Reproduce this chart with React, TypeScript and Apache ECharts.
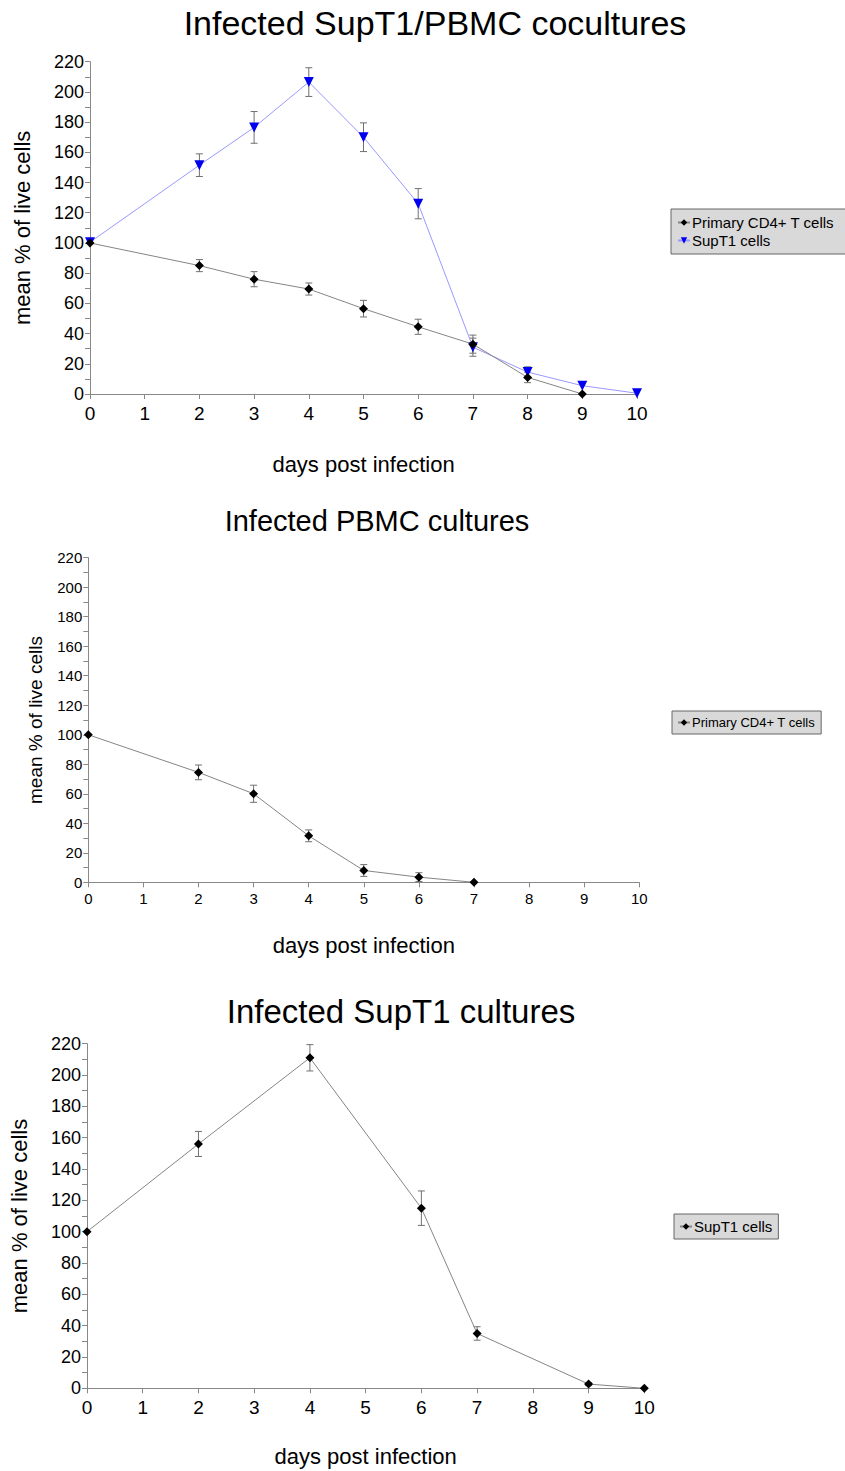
import React, { useEffect, useRef } from "react";
import * as echarts from "echarts";

// ---------- data ----------
const chartTitles = ["Infected SupT1/PBMC cocultures", "Infected PBMC cultures", "Infected SupT1 cultures"];
const xAxisName = "days post infection";
const yAxisName = "mean % of live cells";

// Chart 1: cocultures
const co_primaryDays = [0, 2, 3, 4, 5, 6, 7, 8, 9];
const co_primaryVals = [100, 85, 76, 69.5, 56.5, 44.5, 33, 11, 0];
const co_primaryErr = [0, 4, 5, 4, 5.5, 5, 6, 3.5, 0];
const co_supDays = [0, 2, 3, 4, 5, 6, 7, 8, 9, 10];
const co_supVals = [100.5, 151.5, 176.5, 206.5, 170, 126, 31, 14.5, 5.5, 0.5];
const co_supErr = [0, 7.5, 10.5, 9.5, 9.5, 10, 6, 3.5, 0, 0];

// Chart 2: PBMC cultures
const pbmcDays = [0, 2, 3, 4, 5, 6, 7];
const pbmcVals = [100, 74.5, 60, 31.5, 8, 3.5, 0];
const pbmcErr = [0, 5, 5.8, 4, 4, 3, 0];

// Chart 3: SupT1 cultures
const supDays = [0, 2, 4, 6, 7, 9, 10];
const supVals = [100, 156, 211, 115, 35, 2.7, 0];
const supErr = [0, 8, 8.4, 11, 4.3, 1, 0];

const legendLabels: Record<string, string> = {
  "Primary CD4+ T cells": "Primary CD4+ T cells",
  "SupT1 cells": "SupT1 cells",
  "Primary CD4+ T cells (PBMC)": "Primary CD4+ T cells",
  "SupT1 cells (SupT1)": "SupT1 cells",
};

const FONT = "'Liberation Sans', Arial, sans-serif";

function pairs(xs: number[], ys: number[]) {
  return xs.map((x, i) => [x, ys[i]]);
}
function errs(xs: number[], ys: number[], es: number[]) {
  return xs
    .map((x, i) => [x, ys[i] - es[i], ys[i] + es[i], es[i]])
    .filter((d) => d[3] > 0);
}

function errorSeries(idx: number, data: number[][]) {
  return {
    type: "custom",
    xAxisIndex: idx,
    yAxisIndex: idx,
    silent: true,
    z: 1,
    data,
    renderItem: (_params: any, api: any) => {
      const x = api.value(0);
      const lo = api.coord([x, api.value(1)]);
      const hi = api.coord([x, api.value(2)]);
      const w = 3.5;
      const st = { stroke: "#707070", lineWidth: 1 };
      return {
        type: "group",
        children: [
          { type: "line", shape: { x1: lo[0], y1: lo[1], x2: hi[0], y2: hi[1] }, style: st },
          { type: "line", shape: { x1: lo[0] - w, y1: lo[1], x2: lo[0] + w, y2: lo[1] }, style: st },
          { type: "line", shape: { x1: hi[0] - w, y1: hi[1], x2: hi[0] + w, y2: hi[1] }, style: st },
        ],
      };
    },
  };
}

const layouts = [
  { left: 90, top: 61.7, width: 547, height: 332.3, tick: 18, xTick: 19, xMargin: 10, yName: 22, yGap: 57, xName: 22, xGap: 59, titleX: 435, titleY: 23, titleSize: 34 },
  { left: 88.3, top: 557.7, width: 551, height: 324.6, tick: 15, xTick: 15, xMargin: 9, yName: 19, yGap: 43, xName: 22, xGap: 52, titleX: 377, titleY: 521, titleSize: 29 },
  { left: 86, top: 1043.7, width: 558.3, height: 344.6, tick: 18, xTick: 19, xMargin: 10, yName: 22, yGap: 57, xName: 22, xGap: 57, titleX: 401, titleY: 1011, titleSize: 33 },
];

export default function App() {
  const ref = useRef<HTMLDivElement>(null);
  useEffect(() => {
    document.body.style.margin = "0";
    if (!ref.current) return;
    const chart = echarts.init(ref.current, null, { renderer: "svg" });

    const grid = layouts.map((l) => ({ left: l.left, top: l.top, width: l.width, height: l.height }));
    const xAxis = layouts.map((l, i) => ({
      type: "value",
      gridIndex: i,
      min: 0,
      max: 10,
      interval: 1,
      name: xAxisName,
      nameLocation: "middle",
      nameGap: l.xGap,
      nameTextStyle: { fontSize: l.xName, color: "#000", fontFamily: FONT },
      axisLine: { show: true, lineStyle: { color: "#888", width: 1 } },
      axisTick: { show: true, length: 5, lineStyle: { color: "#888" } },
      axisLabel: { fontSize: l.xTick, color: "#000", fontFamily: FONT, margin: l.xMargin },
      splitLine: { show: false },
    }));
    const yAxis = layouts.map((l, i) => ({
      type: "value",
      gridIndex: i,
      min: 0,
      max: 220,
      interval: 20,
      name: yAxisName,
      nameLocation: "middle",
      nameGap: l.yGap,
      nameTextStyle: { fontSize: l.yName, color: "#000", fontFamily: FONT },
      axisLine: { show: true, lineStyle: { color: "#888", width: 1 } },
      axisTick: { show: true, length: 5, lineStyle: { color: "#888" } },
      minorTick: { show: true, splitNumber: 2, length: 5, lineStyle: { color: "#888" } },
      axisLabel: { fontSize: l.tick, color: "#000", fontFamily: FONT, margin: 6 },
      splitLine: { show: false },
    }));

    const diamond = {
      symbol: "diamond",
      symbolSize: 9,
      itemStyle: { color: "#000" },
      lineStyle: { color: "#858585", width: 1 },
    };

    const series: any[] = [
      errorSeries(0, errs(co_supDays, co_supVals, co_supErr)),
      errorSeries(0, errs(co_primaryDays, co_primaryVals, co_primaryErr)),
      {
        type: "line",
        name: "SupT1 cells",
        xAxisIndex: 0,
        yAxisIndex: 0,
        data: pairs(co_supDays, co_supVals),
        symbol: "triangle",
        symbolRotate: 180,
        symbolSize: 10,
        itemStyle: { color: "#0000ee" },
        lineStyle: { color: "#9999ff", width: 1 },
        z: 2,
      },
      {
        type: "line",
        name: "Primary CD4+ T cells",
        xAxisIndex: 0,
        yAxisIndex: 0,
        data: pairs(co_primaryDays, co_primaryVals),
        ...diamond,
        z: 3,
      },
      errorSeries(1, errs(pbmcDays, pbmcVals, pbmcErr)),
      {
        type: "line",
        name: "Primary CD4+ T cells (PBMC)",
        xAxisIndex: 1,
        yAxisIndex: 1,
        data: pairs(pbmcDays, pbmcVals),
        ...diamond,
        z: 3,
      },
      errorSeries(2, errs(supDays, supVals, supErr)),
      {
        type: "line",
        name: "SupT1 cells (SupT1)",
        xAxisIndex: 2,
        yAxisIndex: 2,
        data: pairs(supDays, supVals),
        ...diamond,
        z: 3,
      },
    ];

    const legendBase = {
      orient: "vertical",
      backgroundColor: "#d9d9d9",
      borderColor: "#666",
      borderWidth: 1,
      borderRadius: 0,
      itemWidth: 12,
      itemHeight: 8,
      itemGap: 3,
      selectedMode: false,
      formatter: (n: string) => legendLabels[n] || n,
    };

    const legend = [
      { ...legendBase, left: 671, top: 209, padding: [6, 20, 6, 6], data: ["Primary CD4+ T cells", "SupT1 cells"], textStyle: { fontSize: 15, color: "#000", fontFamily: FONT, padding: [0, 0, 0, -3] } },
      { ...legendBase, left: 672, top: 711, padding: [5, 6, 5, 5], data: ["Primary CD4+ T cells (PBMC)"], textStyle: { fontSize: 13, color: "#000", fontFamily: FONT, padding: [0, 0, 0, -3] } },
      { ...legendBase, left: 674, top: 1214, padding: [5, 6, 5, 5], data: ["SupT1 cells (SupT1)"], textStyle: { fontSize: 15, color: "#000", fontFamily: FONT, padding: [0, 0, 0, -3] } },
    ];

    const graphic = layouts.map((l, i) => ({
      type: "text",
      x: l.titleX,
      y: l.titleY,
      style: {
        text: chartTitles[i],
        fontSize: l.titleSize,
        fontFamily: FONT,
        fill: "#000",
        align: "center",
        verticalAlign: "middle",
        textAlign: "center",
        textVerticalAlign: "middle",
      },
    }));

    chart.setOption({
      animation: false,
      backgroundColor: "#fff",
      grid,
      xAxis,
      yAxis,
      series,
      legend,
      graphic,
    });
    return () => chart.dispose();
  }, []);
  return <div ref={ref} style={{ width: 845, height: 1471 }} />;
}
